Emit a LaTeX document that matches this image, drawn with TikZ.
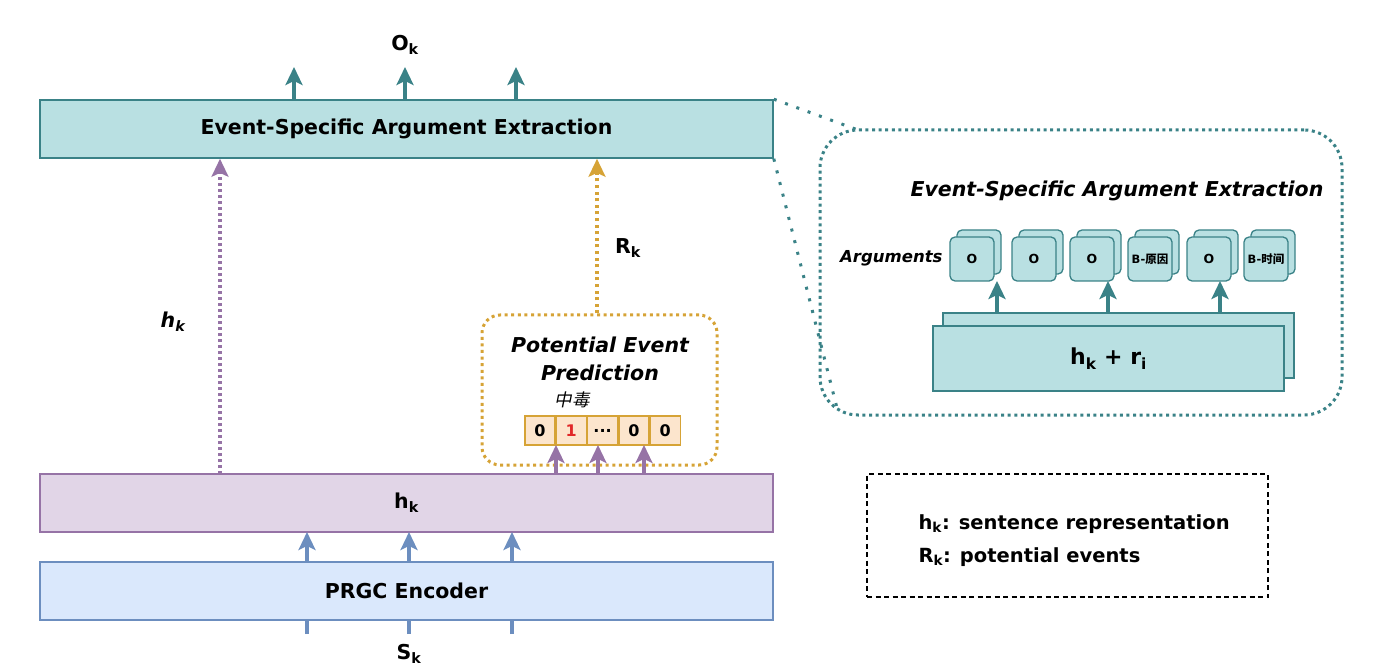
\documentclass[tikz,border=0pt]{standalone}
\usepackage{fontspec}
\setmainfont{DejaVu Sans}
\newfontfamily\cjk{Noto Sans CJK SC}
\newfontfamily\cjkslant[FakeSlant=0.2]{Noto Sans CJK SC}
\usetikzlibrary{arrows.meta,positioning,shadows}
\definecolor{esaeteal}{RGB}{185,224,226}
\definecolor{esaeline}{RGB}{58,130,135}
\definecolor{hklilac}{RGB}{225,213,231}
\definecolor{hkline}{RGB}{150,115,166}
\definecolor{encblue}{RGB}{218,232,252}
\definecolor{encline}{RGB}{108,142,191}
\definecolor{pepgold}{RGB}{214,163,54}
\definecolor{cellfill}{RGB}{252,229,205}
\definecolor{hitred}{RGB}{225,40,40}
\newcommand{\ksub}[1]{#1\textsubscript{k}}

\begin{document}
\begin{tikzpicture}[x=1pt,y=-1pt,
    font=\fontsize{20.5}{24}\selectfont\bfseries,
    layer/.style={rectangle,line width=1.6pt,minimum width=733,minimum height=58,inner sep=0pt},
    cell/.style={rectangle,draw=pepgold,fill=cellfill,line width=1.3pt,
      minimum width=30,minimum height=29,inner sep=0pt,font=\fontsize{16}{18}\selectfont\bfseries},
    card/.style={rectangle,rounded corners=5pt,draw=esaeline,fill=esaeteal,line width=1.3pt,
      minimum size=44,inner sep=0pt,font=\fontsize{12.5}{14}\selectfont\bfseries,
      copy shadow={shadow xshift=7pt,shadow yshift=7pt}},
    arrow/.style={-{Stealth[length=18pt,width=17pt,inset=4pt]},line width=3.2pt},
    dotline/.style={line width=3pt,dash pattern=on 3pt off 3.6pt},
    title/.style={font=\fontsize{20.5}{28}\selectfont\bfseries\itshape,align=center}
  ]
    \useasboundingbox (0,0) rectangle (1376,668);

    % left column
    \node[layer,draw=esaeline,fill=esaeteal] (esae) at (406.5,129) {Event-Specific Argument Extraction};
    \node[layer,draw=hkline,fill=hklilac] (hk) at (406.5,503) {\ksub{h}};
    \node[layer,draw=encline,fill=encblue] (enc) at (406.5,591) {PRGC Encoder};
    \node (ok) at (405,45) {\ksub{O}};
    \node (sk) at (409,654) {\ksub{S}};

    \foreach \x in {294,405,516}
      \draw[arrow,esaeline] (\x,100) -- (\x,67);
    \foreach \x in {307,409,512}{
      \draw[arrow,encline] (\x,562) -- (\x,532);
      \draw[line width=3.2pt,encline] (\x,634) -- (\x,620);
    }

    % potential event prediction
    \node[rectangle,rounded corners=18pt,draw=pepgold,dotline,minimum width=235,minimum height=150] (pep) at (599.5,390) {};
    \node[title] (peptitle) at (600,359) {Potential Event\\Prediction};
    \node[cell] (c0) at (540,430.5) {0};
    \node[cell,right=0pt of c0] (c1) {\textcolor{hitred}{1}};
    \node[cell,right=0pt of c1] (c2) {...};
    \node[cell,right=0pt of c2] (c3) {0};
    \node[cell,right=0pt of c3] (c4) {0};
    \node[font=\fontsize{17.5}{19}\selectfont\cjkslant] (poison) at (572,400) {中毒};
    \foreach \x in {556,598,644}
      \draw[arrow,hkline] (\x,474) -- (\x,445);

    \draw[arrow,hkline,dash pattern=on 3pt off 3pt] (220,474) -- (esae.south -| 220,0);
    \node[font=\fontsize{20.5}{24}\selectfont\bfseries\itshape] (hklab) at (173,322) {\ksub{h}};
    \draw[arrow,pepgold,dash pattern=on 3pt off 3.6pt] (pep.north -| 597,0) -- (esae.south -| 597,0);
    \node (rk) at (628,248) {\ksub{R}};

    % zoomed extraction
    \node[rectangle,rounded corners=38pt,draw=esaeline,dotline,minimum width=522,minimum height=285] (zoom) at (1081,272.5) {};
    \coordinate (calloutA) at (858,130);
    \coordinate (calloutB) at (838,412);
    \draw[esaeline,line width=3pt,dash pattern=on 3pt off 9pt] (esae.north east) -- (calloutA);
    \draw[esaeline,line width=3pt,dash pattern=on 3pt off 9pt] (esae.south east) -- (calloutB);
    \node[title] (zoomtitle) at (1117,191) {Event-Specific Argument Extraction};
    \node[font=\fontsize{16.5}{19}\selectfont\bfseries\itshape,anchor=east] (args) at (946,258) {Arguments};

    \node[card] (a1) at (972,259) {O};
    \node[card] (a2) at (1034,259) {O};
    \node[card] (a3) at (1092,259) {O};
    \node[card,font=\fontsize{11.5}{13}\selectfont\bfseries] (a4) at (1150,259) {B-{\cjk 原因}};
    \node[card] (a5) at (1209,259) {O};
    \node[card,font=\fontsize{11.5}{13}\selectfont\bfseries] (a6) at (1266,259) {B-{\cjk 时间}};

    \node[rectangle,draw=esaeline,fill=esaeteal,line width=1.6pt,minimum width=351,minimum height=65,
      font=\fontsize{22}{26}\selectfont\bfseries,copy shadow={shadow xshift=10pt,shadow yshift=13pt}] (hkri) at (1108.5,358.5) {\ksub{h} + r\textsubscript{i}};
    \foreach \x in {997,1108,1220}
      \draw[arrow,esaeline] (\x,313) -- (\x,281);

    % legend
    \node[rectangle,draw,line width=1.2pt,dash pattern=on 5pt off 3.5pt,minimum width=401,minimum height=123] (legend) at (1067.5,535.5) {};
    \node[anchor=west,font=\fontsize{19.5}{23}\selectfont\bfseries] (leghk) at (915,524) {\ksub{h}: sentence representation};
    \node[anchor=west,font=\fontsize{19.5}{23}\selectfont\bfseries] (legrk) at (915,557) {\ksub{R}: potential events};
  \end{tikzpicture}
\end{document}
